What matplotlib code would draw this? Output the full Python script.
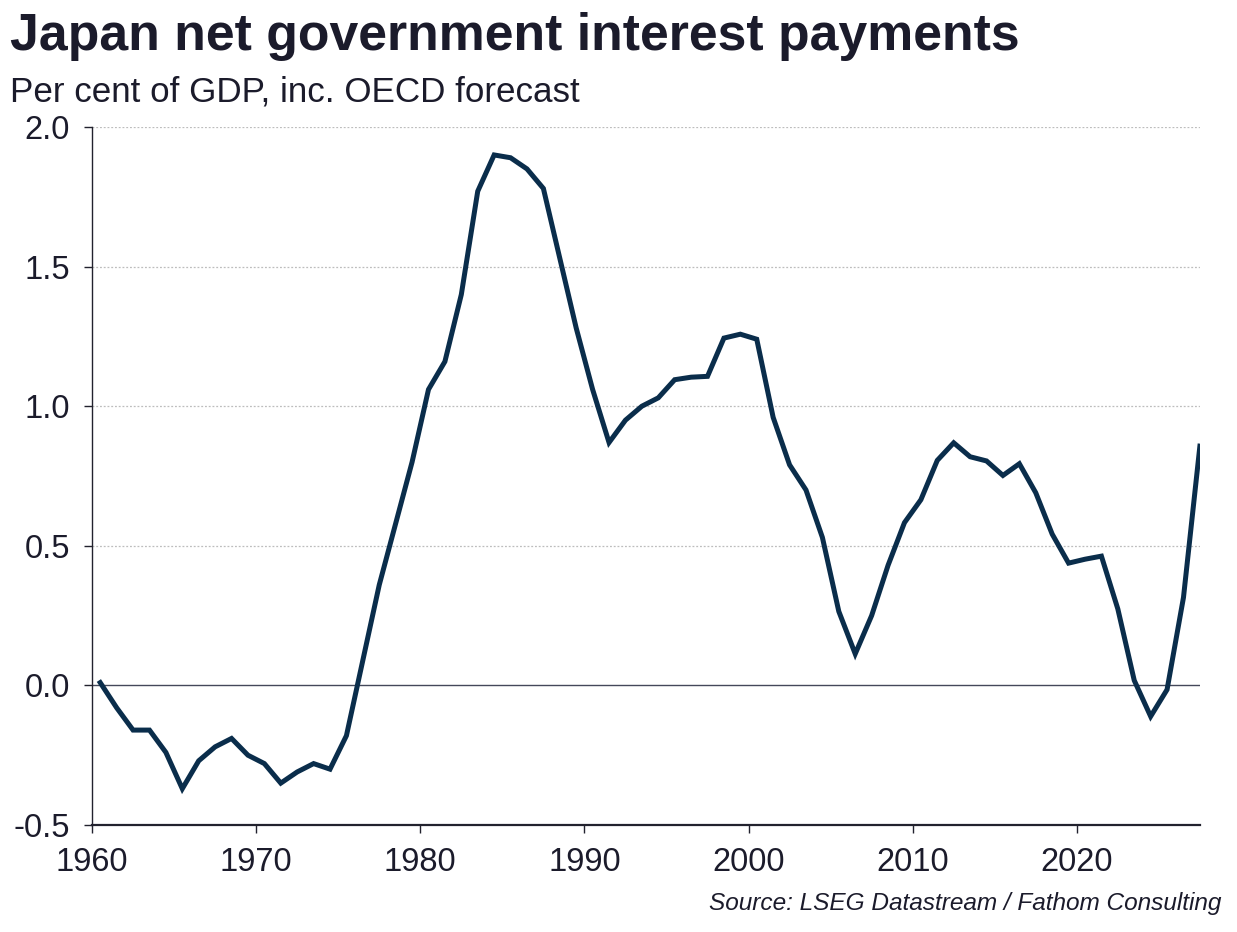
import matplotlib
matplotlib.use("Agg")
import matplotlib.pyplot as plt

# annual values, plotted mid-year
years = list(range(1960, 2028))
interest = [
    0.01, -0.08, -0.16, -0.16, -0.24, -0.37, -0.27, -0.22, -0.19, -0.25,  # 1960s
    -0.28, -0.35, -0.31, -0.28, -0.30, -0.18, 0.09, 0.36, 0.58, 0.80,     # 1970s
    1.06, 1.16, 1.40, 1.77, 1.90, 1.89, 1.85, 1.78, 1.53, 1.28,           # 1980s
    1.06, 0.87, 0.95, 1.00, 1.03, 1.095, 1.104, 1.107, 1.244, 1.258,      # 1990s
    1.24, 0.96, 0.79, 0.70, 0.53, 0.265, 0.113, 0.25, 0.43, 0.583,        # 2000s
    0.665, 0.806, 0.869, 0.819, 0.804, 0.752, 0.794, 0.69, 0.542, 0.438,  # 2010s
    0.452, 0.463, 0.274, 0.018, -0.111, -0.015, 0.315, 0.857,             # 2020s
]
x_ticks = [1960, 1970, 1980, 1990, 2000, 2010, 2020]
y_ticks = [-0.5, 0.0, 0.5, 1.0, 1.5, 2.0]

plt.rcParams['font.family'] = ['Liberation Sans', 'DejaVu Sans']
text_col = '#1b1b2b'
line_col = '#0a2d4b'

fig = plt.figure(figsize=(12.37, 9.32), dpi=100)
ax = fig.add_axes([0.0744, 0.1148, 0.8956, 0.7489])

xs = [y + 0.5 for y in years]
ax.plot(xs, interest, color=line_col, lw=3.6, solid_joinstyle='miter', zorder=3)
ax.axhline(0, color='#44485a', lw=1.0, zorder=2)

ax.set_xlim(1960, 2027.5)
ax.set_ylim(-0.5, 2.0)
ax.set_xticks(x_ticks)
ax.set_yticks(y_ticks)
ax.set_yticklabels([f'{v:.1f}' for v in y_ticks])

for v in y_ticks[2:]:
    ax.axhline(v, color='#bdbdbd', lw=0.9, ls=(0, (1.5, 1.5)), zorder=1)

for s in ['top', 'right']:
    ax.spines[s].set_visible(False)
ax.spines['left'].set_color('#22222e')
ax.spines['bottom'].set_color('#22222e')
ax.spines['left'].set_linewidth(1.0)
ax.spines['bottom'].set_linewidth(1.6)
ax.tick_params(axis='both', colors='#22222e', labelcolor=text_col,
               labelsize=23.5, length=6, width=1.0)
ax.tick_params(axis='x', pad=10)
ax.tick_params(axis='y', pad=10)

fig.text(0.008, 0.946, 'Japan net government interest payments', fontsize=37.3,
         fontweight='bold', color=text_col, ha='left', va='baseline')
fig.text(0.008, 0.891, 'Per cent of GDP, inc. OECD forecast', fontsize=25.2,
         color=text_col, ha='left', va='baseline')
fig.text(0.987, 0.024, 'Source: LSEG Datastream / Fathom Consulting', fontsize=17.6,
         style='italic', color=text_col, ha='right', va='baseline')

fig.savefig('out.png', dpi=100)
